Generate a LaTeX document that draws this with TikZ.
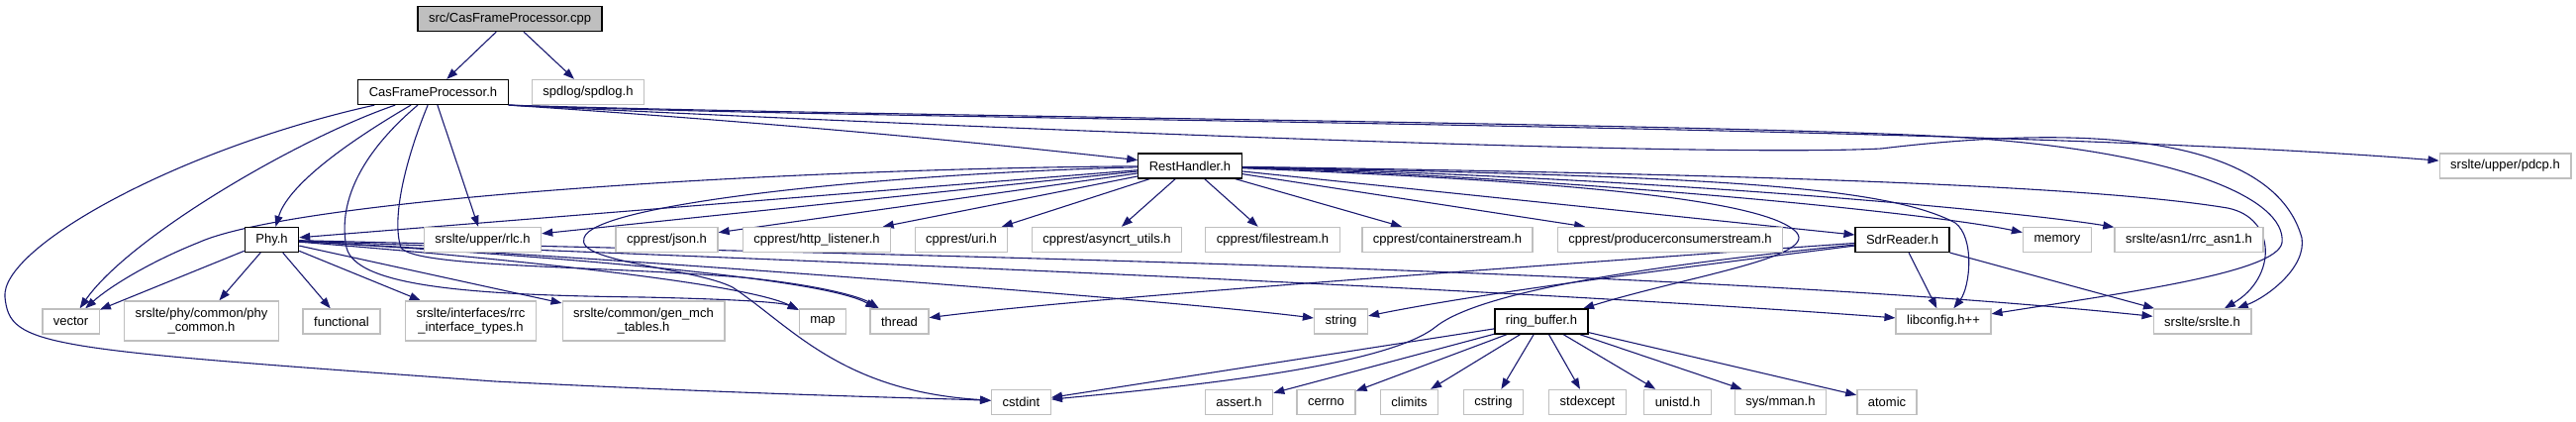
\documentclass[tikz,border=0pt]{standalone}
\usepackage{fontspec}
\setmainfont{Liberation Sans}
\usetikzlibrary{arrows.meta,backgrounds}
\definecolor{edgeblue}{HTML}{191970}
\definecolor{boxgray}{HTML}{BFBFBF}

\begin{document}
\begin{tikzpicture}[
            x=0.5pt, y=-0.5pt,
            hdr/.style={draw=boxgray, fill=white, line width=0.7pt, inner xsep=5.5pt, inner ysep=0pt,
                        minimum height=12.5pt, font=\fontsize{6.5}{7}\selectfont, align=center},
            hdrtwo/.style={hdr, minimum height=20pt},
            own/.style={hdr, draw=black, line width=0.6pt},
            srcfile/.style={hdr, draw=black, line width=0.6pt, fill=boxgray},
            inc/.style={draw=edgeblue, line width=0.55pt, -{Triangle[length=5.5pt,width=4pt]}}
        ]
        \useasboundingbox (0,0) rectangle (2602,425);
        % top
        \node[srcfile] (root)   at (515,19)    {src/CasFrameProcessor.cpp};
        \node[own] (cfp)        at (437.5,93)  {CasFrameProcessor.h};
        \node[hdr] (spdlog)     at (594,93)    {spdlog/spdlog.h};
        \node[own] (rest)       at (1202,167.5) {RestHandler.h};
        \node[hdr] (pdcp)       at (2530.5,167.5) {srslte/upper/pdcp.h};
        % second row
        \node[own] (phy)        at (274.5,242) {Phy.h};
        \node[hdr] (rlc)        at (487.5,242) {srslte/upper/rlc.h};
        \node[hdr] (json)       at (673.5,242) {cpprest/json.h};
        \node[hdr] (httpl)      at (825,242)   {cpprest/http\_listener.h};
        \node[hdr] (uri)        at (971,242)   {cpprest/uri.h};
        \node[hdr] (asyncrt)    at (1118,242)  {cpprest/asyncrt\_utils.h};
        \node[hdr] (filestr)    at (1285.5,242) {cpprest/filestream.h};
        \node[hdr] (contstr)    at (1462,242)  {cpprest/containerstream.h};
        \node[hdr] (prodcons)   at (1687,242)  {cpprest/producerconsumerstream.h};
        \node[own] (sdr)        at (1921.5,242) {SdrReader.h};
        \node[hdr] (memory)     at (2078,242)  {memory};
        \node[hdr] (asn)        at (2211,242)  {srslte/asn1/rrc\_asn1.h};
        % third row
        \node[hdr] (vector)     at (71.5,324.5) {vector};
        \node[hdrtwo] (phycommon) at (203.5,324) {srslte/phy/common/phy\\\_common.h};
        \node[hdr] (functional) at (345,324.5) {functional};
        \node[hdrtwo] (rrcif)   at (475.5,324) {srslte/interfaces/rrc\\\_interface\_types.h};
        \node[hdrtwo] (genmch)  at (650,324)   {srslte/common/gen\_mch\\\_tables.h};
        \node[hdr] (map)        at (831,324.5) {map};
        \node[hdr] (thread)     at (908.5,324.5) {thread};
        \node[hdr] (string)     at (1354.5,324.5) {string};
        \node[own] (ring)       at (1557,324.5) {ring\_buffer.h};
        \node[hdr] (libconfig)  at (1963,324.5) {libconfig.h++};
        \node[hdr] (srslte)     at (2224.5,324.5) {srslte/srslte.h};
        % bottom row
        \node[hdr] (cstdint)    at (1031.5,406) {cstdint};
        \node[hdr] (assert)     at (1251.5,406) {assert.h};
        \node[hdr] (cerrno)     at (1339.5,406) {cerrno};
        \node[hdr] (climits)    at (1423.5,406) {climits};
        \node[hdr] (cstring)    at (1508.5,406) {cstring};
        \node[hdr] (stdexcept)  at (1603.5,406) {stdexcept};
        \node[hdr] (unistd)     at (1694.5,406) {unistd.h};
        \node[hdr] (mman)       at (1798.5,406) {sys/mman.h};
        \node[hdr] (atomic)     at (1906,406)  {atomic};

        \begin{scope}[on background layer]
        \draw[inc] (root) -- (cfp);
        \draw[inc] (root) -- (spdlog);
        % CasFrameProcessor.h
        \draw[inc] (cfp) .. controls (340,150) and (290,190) .. (phy);
        \draw[inc] (cfp) .. controls (300,140) and (130,240) .. (vector);
        \draw[inc] (cfp) .. controls (180,150) and (0,250) .. (5,300)
                         .. controls (10,350) and (40,352) .. (500,385)
                         .. controls (800,400) and (950,402) .. (cstdint);
        \draw[inc] (cfp) -- (rlc);
        \draw[inc] (cfp) .. controls (370,150) and (340,200) .. (350,250)
                         .. controls (360,290) and (480,298) .. (650,300)
                         .. controls (740,302) and (790,305) .. (map);
        \draw[inc] (cfp) .. controls (410,160) and (395,220) .. (405,250)
                         .. controls (420,270) and (600,268) .. (750,280)
                         .. controls (830,288) and (870,300) .. (thread);
        \draw[inc] (cfp.south east) .. controls (800,125) and (1000,145) .. (rest);
        \draw[inc] (cfp.south east) .. controls (900,122) and (2000,125) .. (pdcp);
        \draw[inc] (cfp.south east) .. controls (900,125) and (1700,160) .. (1900,150)
                         .. controls (2150,120) and (2300,150) .. (2325,240)
                         .. controls (2330,270) and (2290,300) .. (srslte);
        \draw[inc] (cfp.south east) .. controls (900,118) and (1800,125) .. (2000,140)
                         .. controls (2200,155) and (2310,200) .. (2305,245)
                         .. controls (2300,275) and (2150,295) .. (libconfig);
        % RestHandler.h
        \draw[inc] (rest) -- (phy);
        \draw[inc] (rest) -- (rlc);
        \draw[inc] (rest) .. controls (800,170) and (300,200) .. (200,245)
                          .. controls (150,265) and (110,290) .. (vector);
        \draw[inc] (rest) .. controls (900,175) and (600,205) .. (590,240)
                          .. controls (580,265) and (700,270) .. (740,290)
                          .. controls (800,330) and (850,395) .. (cstdint);
        \draw[inc] (rest) -- (json);
        \draw[inc] (rest) -- (httpl);
        \draw[inc] (rest) -- (uri);
        \draw[inc] (rest) -- (asyncrt);
        \draw[inc] (rest) -- (filestr);
        \draw[inc] (rest) -- (contstr);
        \draw[inc] (rest) -- (prodcons);
        \draw[inc] (rest) -- (sdr);
        \draw[inc] (rest) .. controls (1600,180) and (1950,215) .. (memory);
        \draw[inc] (rest) .. controls (1700,180) and (2050,215) .. (asn);
        \draw[inc] (rest) .. controls (1500,180) and (1780,195) .. (1815,235)
                          .. controls (1835,260) and (1700,280) .. (ring);
        \draw[inc] (rest) .. controls (1700,178) and (1900,185) .. (1975,225)
                          .. controls (1995,240) and (1990,290) .. (libconfig);
        \draw[inc] (rest) .. controls (1700,175) and (2100,185) .. (2250,210)
                          .. controls (2300,220) and (2300,280) .. (srslte);
        % Phy.h
        \draw[inc] (phy) -- (vector);
        \draw[inc] (phy) -- (phycommon);
        \draw[inc] (phy) -- (functional);
        \draw[inc] (phy) -- (rrcif);
        \draw[inc] (phy) -- (genmch);
        \draw[inc] (phy) .. controls (500,260) and (750,285) .. (map);
        \draw[inc] (phy) .. controls (550,258) and (830,280) .. (thread);
        \draw[inc] (phy) .. controls (700,265) and (1200,305) .. (string);
        \draw[inc] (phy) .. controls (800,262) and (1500,290) .. (libconfig);
        \draw[inc] (phy) .. controls (800,255) and (1700,270) .. (srslte);
        % SdrReader.h
        \draw[inc] (sdr) .. controls (1700,270) and (1500,295) .. (string);
        \draw[inc] (sdr) .. controls (1600,265) and (1100,300) .. (thread);
        \draw[inc] (sdr) .. controls (1700,265) and (1500,290) .. (1450,330)
                         .. controls (1400,370) and (1200,390) .. (cstdint);
        \draw[inc] (sdr) -- (libconfig);
        \draw[inc] (sdr) -- (srslte);
        % ring_buffer.h
        \draw[inc] (ring) -- (cstdint);
        \draw[inc] (ring) -- (assert);
        \draw[inc] (ring) -- (cerrno);
        \draw[inc] (ring) -- (climits);
        \draw[inc] (ring) -- (cstring);
        \draw[inc] (ring) -- (stdexcept);
        \draw[inc] (ring) -- (unistd);
        \draw[inc] (ring) -- (mman);
        \draw[inc] (ring) -- (atomic);
        \end{scope}
    \end{tikzpicture}
\end{document}
